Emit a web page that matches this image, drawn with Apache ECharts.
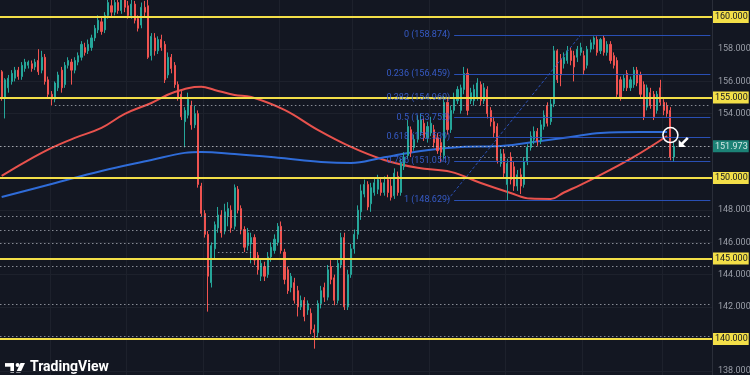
<!DOCTYPE html>
<html><head><meta charset="utf-8">
<script src="https://cdn.jsdelivr.net/npm/echarts@6/dist/echarts.min.js"></script>
<style>html,body{margin:0;padding:0;background:#131722;}#c{width:750px;height:375px;}</style>
</head><body><div id="c"></div>
<script>
// ---------- DATA ----------
const opens = [
156.6,155.0,155.6,156.0,156.2,156.7,156.3,156.8,157.0,157.1,
156.9,157.3,156.7,157.5,156.1,155.2,154.9,155.6,156.7,155.8,
157.0,157.2,156.7,157.2,157.5,158.1,157.9,158.1,158.7,159.2,
159.7,159.2,160.1,160.7,160.3,160.9,160.4,161.1,160.7,160.1,
160.8,159.9,159.5,160.6,160.7,157.6,158.7,157.9,158.6,158.3,
156.4,157.5,157.0,155.8,155.2,153.5,153.9,154.5,153.3,154.0,
149.5,147.8,146.5,143.5,145.6,146.9,147.7,146.7,147.6,148.0,
147.0,149.3,148.1,146.8,145.8,145.9,146.3,145.2,143.9,144.5,
144.0,145.1,145.5,146.0,147.0,145.4,144.3,143.2,143.5,143.0,
142.0,142.4,141.8,141.6,140.6,140.4,142.2,143.2,142.6,144.5,
143.8,142.4,144.6,146.3,142.0,144.0,145.6,146.5,147.9,149.0,
149.6,148.4,149.1,149.3,149.7,149.1,149.9,149.5,148.9,150.1,
149.1,150.7,151.4,153.0,151.9,152.4,152.8,153.4,152.5,152.8,
153.0,152.5,152.2,151.4,154.7,153.0,154.2,154.8,154.2,155.5,
156.5,154.8,154.8,155.0,155.8,154.8,155.5,154.2,153.5,153.2,
150.9,151.5,149.6,151.3,150.7,149.5,150.2,149.6,151.0,151.9,
152.4,152.9,152.3,153.2,154.5,153.5,154.6,157.9,157.4,157.1,
157.3,157.9,157.6,157.5,157.8,157.6,157.0,158.0,158.3,158.6,
157.9,158.7,157.8,158.3,157.6,157.3,156.1,155.6,156.5,155.6,
155.8,156.7,156.4,155.8,154.4,155.3,155.2,154.2,155.6,154.7,
154.5,154.2,151.3];
const closes = [
155.0,156.1,156.2,156.5,156.7,156.3,157.0,157.2,157.2,156.8,
157.2,156.6,157.5,156.0,155.2,154.9,155.9,156.4,155.6,157.0,
157.3,156.7,157.3,157.6,158.3,157.8,158.3,158.7,159.3,159.8,
159.1,160.1,160.9,160.3,160.9,160.4,161.1,160.6,160.1,160.8,
159.8,159.3,160.6,160.3,157.5,158.8,157.9,158.6,158.1,156.1,
157.5,156.8,155.8,155.0,153.8,154.2,154.9,153.3,154.0,149.6,
147.8,146.5,143.9,145.8,147.1,147.7,146.6,147.9,148.1,146.9,
149.4,148.0,146.8,145.7,146.6,146.3,144.9,144.3,144.7,143.9,
145.1,145.7,146.2,147.0,145.5,143.7,143.0,143.9,142.4,142.0,
142.4,141.4,142.2,140.6,140.4,142.2,143.0,142.6,144.3,143.7,
142.4,144.7,146.3,142.0,144.0,145.6,146.5,148.0,149.2,149.6,
148.2,149.4,149.7,149.9,149.1,149.7,149.1,148.8,150.3,149.1,
151.0,151.3,153.2,151.6,152.4,153.6,153.6,152.5,153.2,153.4,
152.2,151.7,151.6,154.7,153.0,154.2,155.0,155.5,155.6,156.5,
154.2,155.3,155.5,155.9,154.8,155.6,154.0,153.5,152.8,151.1,
151.5,150.3,150.9,149.9,149.5,150.2,149.5,151.0,151.9,152.6,
152.9,152.3,153.3,153.9,153.4,154.6,157.9,156.1,156.4,157.5,
157.9,157.3,156.9,158.0,158.1,156.7,158.0,158.4,158.7,157.8,
158.6,157.8,158.3,157.3,157.0,155.2,155.0,156.2,155.6,156.1,
156.7,155.9,155.2,153.8,155.6,154.5,153.8,155.2,154.7,154.2,
154.0,151.3,151.97];
const lows = [
154.8,153.7,155.3,155.8,156.0,156.1,156.1,156.6,156.8,156.6,
156.7,156.4,156.5,155.8,155.0,154.5,154.7,155.4,155.3,155.6,
156.8,155.8,156.5,157.0,157.3,157.6,157.7,157.9,158.5,159.0,
158.9,159.0,159.9,160.0,160.1,160.2,160.2,160.3,159.9,159.9,
159.6,159.1,159.3,160.0,157.4,157.3,157.6,157.7,157.9,155.9,
156.2,156.5,155.6,154.8,153.6,151.9,153.7,153.0,153.1,149.4,
147.6,146.3,141.7,143.2,145.0,146.6,146.3,146.5,147.0,146.6,
146.8,147.8,146.5,145.4,145.5,144.7,144.6,144.0,143.6,143.6,
143.8,144.8,145.3,145.8,145.3,143.4,142.8,142.9,142.2,141.4,
141.8,141.1,141.5,140.3,139.4,140.1,141.9,142.3,142.4,143.4,
142.1,142.2,144.4,141.8,141.8,143.8,145.3,146.2,147.4,148.8,
148.0,147.9,148.9,149.0,148.9,148.9,148.8,148.6,148.7,148.9,
148.9,150.5,151.2,151.3,151.7,152.2,152.6,152.3,152.2,152.6,
151.9,151.5,151.0,151.2,152.7,152.8,154.0,154.6,154.0,155.2,
153.9,154.6,154.5,154.8,154.5,154.6,153.7,153.2,152.5,150.9,
150.7,150.0,148.6,149.6,149.2,149.2,149.0,149.4,150.8,151.7,
152.1,152.0,152.1,153.0,153.2,153.3,154.4,155.9,155.7,156.8,
157.1,157.0,156.0,157.2,157.6,156.4,156.8,157.8,158.0,157.6,
157.7,157.6,157.6,157.1,156.8,155.0,154.8,155.4,155.4,155.4,
155.6,155.7,155.0,153.6,154.2,154.3,153.6,154.0,154.5,153.9,
153.8,151.1,151.0];
const highs = [
156.7,156.2,156.4,156.7,156.9,156.9,157.2,157.4,157.3,157.3,
157.4,158.0,157.9,157.7,156.3,155.4,156.0,156.6,156.9,157.2,
157.5,157.4,157.5,157.8,158.5,158.4,158.6,158.9,159.5,160.1,
160.0,160.3,161.3,161.2,161.4,161.3,161.5,161.4,161.0,161.2,
161.0,160.1,160.9,161.0,161.2,159.0,159.0,158.8,158.9,158.5,
157.8,157.7,157.2,156.0,155.4,154.4,155.3,154.8,154.5,154.2,
149.7,148.0,146.7,146.0,147.3,148.2,148.0,148.4,148.5,148.3,
149.6,149.5,148.3,147.0,146.9,146.6,146.5,145.4,145.0,144.8,
145.4,146.0,146.5,147.2,147.3,145.6,144.5,144.1,143.8,143.3,
142.7,142.6,142.4,141.9,140.9,142.4,143.3,143.5,144.6,144.9,
144.0,145.0,146.6,146.6,144.3,145.9,146.8,148.3,149.6,149.9,
149.8,149.7,150.0,150.2,150.0,150.1,150.2,150.0,150.6,150.4,
151.2,151.6,153.6,153.2,152.7,153.9,154.0,153.7,153.5,153.8,
153.3,152.8,152.5,155.1,154.9,154.5,155.3,155.7,155.8,156.9,
156.8,155.6,155.8,156.2,156.0,155.9,155.7,154.4,153.8,153.4,
151.8,151.8,151.2,151.6,151.0,150.5,150.6,151.3,152.1,152.9,
153.2,153.1,153.6,154.2,154.7,154.9,158.2,158.0,157.7,157.8,
158.2,158.1,157.9,158.2,158.4,157.9,158.2,158.6,158.8,158.8,
158.7,158.87,158.5,158.5,157.8,157.5,156.3,156.4,156.7,156.3,
156.9,156.9,156.6,156.0,155.8,155.6,155.4,155.4,156.1,154.9,
154.7,154.4,152.2];

// moving averages (candle index -> price)
const redIdx = [0,7,15,22,30,37,45,52,60,64,70,75,85,95,105,115,125,135,144,153,159,165,169,174,180,190,200];
const redVal = [150.13,150.99,151.87,152.49,153.11,153.98,154.66,155.34,155.66,155.47,155.16,155.03,154.23,152.99,151.93,151.12,150.63,150.38,149.69,149.07,148.72,148.70,149.10,149.57,150.19,151.31,152.61];
const blueIdx = [0,15,30,45,55,60,70,84,96,105,114,126,138,150,162,171,180,192,200];
const blueVal = [148.82,149.63,150.44,151.12,151.56,151.62,151.49,151.24,151.00,150.93,151.24,151.68,151.93,151.99,152.30,152.55,152.80,152.86,152.86];

// horizontal levels
const yellowLevels = [160, 155, 150, 145, 140];
const currentPrice = 151.973;
const dottedLevels = [147.6, 146.77, 145.94, 144.49, 142.17, 140.14];
const dottedPartLevel = [154.53, 151.3, 145.36];
const dottedPartFrom = [16, 133, 65];
const dottedPartTo = [213, 213, 75];

// fibonacci retracement
const fibRatios = ['0', '0.236', '0.382', '0.5', '0.618', '0.786', '1'];
const fibLevels = [158.874, 156.459, 154.960, 153.752, 152.539, 151.054, 148.629];
const fibStart = 136, fibEnd = 213;
const fibDiagFrom = [134, 148.629], fibDiagTo = [174, 158.874];

// y-axis tick labels hidden behind boxes
const hiddenTicks = [162, 160, 152, 150, 140, 136];
const gridCols = [15, 38, 61, 84, 106, 129, 152, 175, 199];
const N = 214;
const categories = Array.from({length: N}, (_, i) => String(i));

// ---------- BUILD ----------
const candleData = opens.map((o, i) => [o, closes[i], lows[i], highs[i]]);
function sparse(idx, val) { const a = new Array(N).fill(null); idx.forEach((k, j) => { a[k] = val[j]; }); return a; }

const FONT = 'Roboto';
const fibColor = '#2c55c4';
const dotStyle = {type: [1.5, 2.5], color: '#aeb2bb', width: 1, opacity: 0.75};

const underLines = [];
dottedLevels.forEach(v => underLines.push({yAxis: v, lineStyle: dotStyle, label: {show: false}}));
dottedPartLevel.forEach((v, k) => underLines.push([
  {coord: [dottedPartFrom[k], v], lineStyle: dotStyle, label: {show: false}},
  {coord: [dottedPartTo[k], v]}
]));
fibLevels.forEach((v, k) => underLines.push([
  {coord: [fibStart, v], lineStyle: {color: fibColor, width: 1, type: 'solid', opacity: 0.9},
   label: {show: true, position: 'start', formatter: fibRatios[k] + ' (' + v.toFixed(3) + ')',
           color: '#3a62d6', fontSize: 9, fontFamily: FONT, distance: 4}},
  {coord: [fibEnd, v]}
]));
underLines.push([
  {coord: fibDiagFrom, lineStyle: {color: fibColor, width: 1, type: [3, 2], opacity: 0.9}, label: {show: false}},
  {coord: fibDiagTo}
]);

const boxLabel = {show: true, position: 'end', fontSize: 9, fontFamily: FONT, padding: [2, 1, 1, 2], distance: 1};
const topLines = [];
yellowLevels.forEach(v => topLines.push({
  yAxis: v, lineStyle: {color: '#f3df48', width: 2, type: 'solid'},
  label: Object.assign({}, boxLabel, {formatter: v.toFixed(3), backgroundColor: '#f3df48', color: '#131722'})
}));
topLines.push({
  yAxis: currentPrice, lineStyle: {type: [1.5, 2.5], color: '#c3c6cc', width: 1, opacity: 0.8},
  label: Object.assign({}, boxLabel, {formatter: currentPrice.toFixed(3), backgroundColor: '#1f9e8c', color: '#ffffff'})
});

const chart = echarts.init(document.getElementById('c'), null, {renderer: 'canvas'});
chart.setOption({
  animation: false,
  backgroundColor: '#131722',
  grid: {left: 0, right: 38, top: -15.2, bottom: -28.4, containLabel: false, outerBoundsMode: 'none'},
  xAxis: {
    type: 'category', data: categories, boundaryGap: true,
    axisLine: {show: false}, axisTick: {show: false}, axisLabel: {show: false},
    splitLine: {show: true, interval: (i) => gridCols.includes(i), lineStyle: {color: '#1d212c', width: 1}}
  },
  yAxis: {
    type: 'value', position: 'right', min: 136, max: 162, interval: 2,
    axisLine: {show: true, lineStyle: {color: '#2a2e39'}}, axisTick: {show: false},
    splitLine: {show: true, lineStyle: {color: '#1d212c', width: 1}},
    axisLabel: {color: '#9a9ea8', fontSize: 9, fontFamily: FONT, margin: 6,
      formatter: v => hiddenTicks.includes(v) ? '' : v.toFixed(3)}
  },
  graphic: [
    {type: 'group', left: 5, top: 363, children: [
      {type: 'rect', shape: {x: 0, y: 0, width: 9, height: 3.6}, style: {fill: '#ffffff'}},
      {type: 'rect', shape: {x: 5.4, y: 0, width: 3.6, height: 9.5}, style: {fill: '#ffffff'}},
      {type: 'circle', shape: {cx: 12.6, cy: 1.9, r: 2}, style: {fill: '#ffffff'}},
      {type: 'polygon', shape: {points: [[11, 9.5], [15.5, 0], [20, 0], [15.5, 9.5]]}, style: {fill: '#ffffff'}}
    ]},
    {type: 'text', left: 30, top: 360, style: {text: 'TradingView', fill: '#ffffff', font: 'bold 14px Roboto'}}
  ],
  series: [
    {type: 'line', name: 'under', data: [], z: 1, silent: true,
     markLine: {silent: true, symbol: ['none', 'none'], animation: false, data: underLines}},
    {type: 'line', name: 'MA red', data: sparse(redIdx, redVal), connectNulls: true, smooth: 0.4,
     showSymbol: false, symbol: 'none', z: 2, lineStyle: {color: '#e8524d', width: 2}},
    {type: 'line', name: 'MA blue', data: sparse(blueIdx, blueVal), connectNulls: true, smooth: 0.4,
     showSymbol: false, symbol: 'none', z: 2, lineStyle: {color: '#2f6cd8', width: 2}},
    {type: 'candlestick', name: 'price', data: candleData, z: 3, barWidth: 1.6,
     itemStyle: {color: '#26a69a', color0: '#ef5350', borderColor: '#26a69a', borderColor0: '#ef5350', borderWidth: 1}},
    {type: 'line', name: 'top', data: [], z: 5, silent: true,
     markLine: {silent: true, symbol: ['none', 'none'], animation: false, data: topLines},
     markPoint: {silent: true, animation: false, label: {show: false}, data: [
       {coord: [201, 152.67], symbol: 'circle', symbolSize: 15,
        itemStyle: {color: 'rgba(0,0,0,0)', borderColor: '#ffffff', borderWidth: 1.6}},
       {coord: [205, 152.24], symbol: 'path://M0,12 L0,4 L3,7 L9,1 L11,3 L5,9 L8,12 Z', symbolSize: 10,
        itemStyle: {color: '#ffffff'}}
     ]}}
  ]
});
</script>
</body></html>
